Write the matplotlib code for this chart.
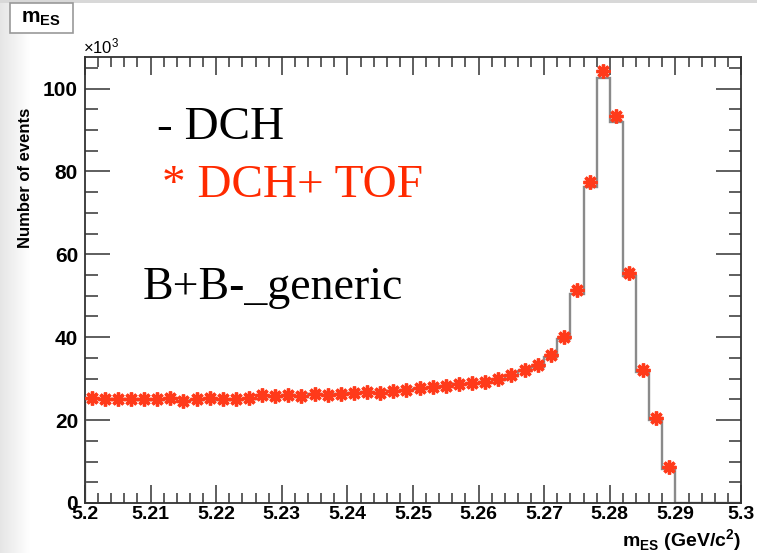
import numpy as np
import matplotlib
matplotlib.use("Agg")
import matplotlib.pyplot as plt
from matplotlib.ticker import MultipleLocator
from matplotlib.patches import Rectangle

# ---- data (in units of 10^3 events), 50 bins of 0.002 GeV from 5.20 to 5.30 ----
bin_edges_lo = 5.20
bin_edges_hi = 5.30
n_bins = 50

dch_tof = [25.3, 25.1, 25.1, 25.1, 25.0, 25.0, 25.3, 24.7, 25.0, 25.3,
           25.0, 25.0, 25.3, 26.0, 25.7, 26.1, 25.7, 26.4, 26.1, 26.3,
           26.6, 26.9, 26.6, 27.1, 27.3, 27.7, 27.9, 28.3, 28.7, 28.9,
           29.3, 29.9, 30.9, 32.1, 33.3, 35.7, 40.0, 51.3, 77.5, 104.2,
           93.3, 55.5, 32.1, 20.5, 8.6, 0.0, 0.0, 0.0, 0.0, 0.0]

dch = [25.2, 25.0, 25.0, 25.0, 24.9, 24.9, 25.2, 24.6, 24.9, 25.2,
       24.9, 24.9, 25.2, 25.9, 25.6, 26.0, 25.6, 26.3, 26.0, 26.2,
       26.5, 26.8, 26.5, 27.0, 27.2, 27.6, 27.8, 28.2, 28.6, 28.8,
       29.2, 29.7, 30.7, 31.8, 32.9, 35.2, 39.5, 50.4, 76.2, 102.6,
       91.9, 54.7, 31.7, 20.0, 8.1, 0.0, 0.0, 0.0, 0.0, 0.0]

x_ticks = [5.20, 5.21, 5.22, 5.23, 5.24, 5.25, 5.26, 5.27, 5.28, 5.29, 5.30]
x_tick_labels = ["5.2", "5.21", "5.22", "5.23", "5.24", "5.25", "5.26",
                 "5.27", "5.28", "5.29", "5.3"]
y_ticks = [0, 20, 40, 60, 80, 100]

edges = np.linspace(bin_edges_lo, bin_edges_hi, n_bins + 1)
centers = 0.5 * (edges[:-1] + edges[1:])
half_w = 0.5 * (edges[1] - edges[0])

W, H = 757, 553
fig = plt.figure(figsize=(W / 100, H / 100), dpi=100)
fig.patch.set_facecolor("white")

# light gray screenshot border (left gradient + top band)
bg = fig.add_axes([0, 0, 1, 1], zorder=-10)
bg.set_xlim(0, W); bg.set_ylim(H, 0); bg.axis("off")
grad = np.linspace(0.90, 1.0, 64)[None, :]
bg.imshow(np.dstack([grad, grad, grad]), extent=(0, 30, H, 0), aspect="auto")
bg.add_patch(Rectangle((0, 0), W, 3, color="#d8d8d8", lw=0))

ax = fig.add_axes([85 / W, 1 - 503 / H, (741 - 85) / W, (503 - 57) / H])

# DCH histogram (gray step line)
ax.stairs(dch, edges, baseline=0, color="#8a8a8a", lw=1.7, zorder=2)

# DCH+TOF markers with horizontal bars
vals = np.array(dch_tof)
mask = vals > 0
ax.errorbar(centers[mask], vals[mask], xerr=half_w * 0.9,
            fmt="none", ecolor="#222222", elinewidth=1.0, capsize=0, zorder=3)
ax.plot(centers[mask], vals[mask], ls="none",
        marker=(8, 2, 0), ms=10, mew=2.4, color="#ff3a1a", zorder=4)

ax.set_xlim(bin_edges_lo, bin_edges_hi)
ax.set_ylim(0, 107.6)

ax.set_xticks(x_ticks)
ax.set_xticklabels(x_tick_labels, fontdict=dict(family="Liberation Sans",
                                                weight="bold", size=14))
ax.set_yticks(y_ticks)
ax.set_yticklabels([str(v) for v in y_ticks],
                   fontdict=dict(family="Liberation Sans", weight="bold", size=15))
ax.xaxis.set_minor_locator(MultipleLocator(0.002))
ax.yaxis.set_minor_locator(MultipleLocator(5))
ax.tick_params(which="both", direction="in", top=True, right=True,
               color="#333333", width=1.1)
ax.tick_params(axis="x", which="major", length=13, pad=2)
ax.tick_params(axis="x", which="minor", length=7)
ax.tick_params(axis="y", which="major", length=18, pad=5)
ax.tick_params(axis="y", which="minor", length=9)
for s in ax.spines.values():
    s.set_color("#333333"); s.set_linewidth(1.3)

ax.set_ylabel("Number of events", fontsize=12, family="Liberation Sans",
              weight="bold")
ax.yaxis.set_label_coords(-0.079, 0.729)
fig.text(741 / W, 1 - 541 / H, r"m$_{\mathregular{ES}}$ (GeV/c$^{\mathregular{2}}$)",
         ha="right", va="center", fontsize=14, family="Liberation Sans",
         weight="bold")
fig.text(83 / W, 1 - 46 / H, r"$\mathregular{\times10^{3}}$", ha="left",
         va="center", fontsize=12, family="Liberation Sans")

# title box
fig.patches.append(Rectangle((10 / W, 1 - 33 / H), 63 / W, 30 / H,
                             transform=fig.transFigure, facecolor="white",
                             edgecolor="#999999", lw=1.2))
fig.text(41 / W, 1 - 19 / H, r"m$_{\mathregular{ES}}$", ha="center",
         va="center", fontsize=15, family="Liberation Sans", weight="bold")

# annotations
serif = "Liberation Serif"
fig.text(157 / W, 1 - 128 / H, "- DCH", ha="left", va="center",
         fontsize=34, family=serif, color="black")
fig.text(162 / W, 1 - 186 / H, "* DCH+ TOF", ha="left", va="center",
         fontsize=34, family=serif, color="#ff2a00")
fig.text(143 / W, 1 - 288 / H, "B+B-_generic", ha="left", va="center",
         fontsize=33, family=serif, color="black")

fig.savefig("out.png", dpi=100)
